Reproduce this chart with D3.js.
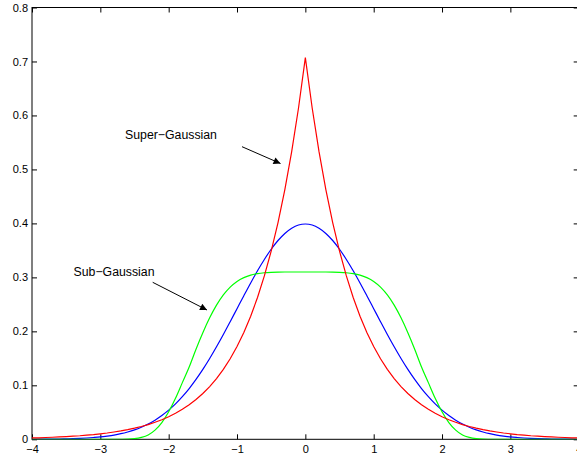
<!DOCTYPE html>
<html>
<head>
<meta charset="utf-8">
<script src="https://cdn.jsdelivr.net/npm/d3@7"></script>
<style>
  html, body { margin: 0; padding: 0; background: #fff; }
  svg { display: block; }
  text { font-family: "Liberation Sans", Arial, Helvetica, sans-serif; fill: #000; }
</style>
</head>
<body>
<script>
// Sample grid on x: -4 .. 4 in steps of 0.1 (81 points)
const xGrid = d3.range(81).map(i => +(-4 + i * 0.1).toFixed(1));

// Laplacian (super-Gaussian) density
const superGaussian = [
  0.0025, 0.0028, 0.0033, 0.0038, 0.0044, 0.0050, 0.0058, 0.0066, 0.0077, 0.0088,
  0.0102, 0.0117, 0.0135, 0.0155, 0.0179, 0.0206, 0.0237, 0.0273, 0.0315, 0.0363,
  0.0418, 0.0481, 0.0555, 0.0639, 0.0736, 0.0848, 0.0976, 0.1125, 0.1296, 0.1492,
  0.1719, 0.1980, 0.2281, 0.2627, 0.3027, 0.3487, 0.4016, 0.4626, 0.5329, 0.6138,
  0.7071,
  0.6138, 0.5329, 0.4626, 0.4016, 0.3487, 0.3027, 0.2627, 0.2281, 0.1980, 0.1719,
  0.1492, 0.1296, 0.1125, 0.0976, 0.0848, 0.0736, 0.0639, 0.0555, 0.0481, 0.0418,
  0.0363, 0.0315, 0.0273, 0.0237, 0.0206, 0.0179, 0.0155, 0.0135, 0.0117, 0.0102,
  0.0088, 0.0077, 0.0066, 0.0058, 0.0050, 0.0044, 0.0038, 0.0033, 0.0028, 0.0025
];

// Gaussian density
const gaussian = [
  0.0001, 0.0002, 0.0003, 0.0004, 0.0006, 0.0009, 0.0012, 0.0017, 0.0024, 0.0033,
  0.0044, 0.0060, 0.0079, 0.0104, 0.0136, 0.0175, 0.0224, 0.0283, 0.0355, 0.0440,
  0.0540, 0.0656, 0.0790, 0.0940, 0.1109, 0.1295, 0.1497, 0.1714, 0.1942, 0.2179,
  0.2420, 0.2661, 0.2897, 0.3123, 0.3332, 0.3521, 0.3683, 0.3814, 0.3910, 0.3970,
  0.3989,
  0.3970, 0.3910, 0.3814, 0.3683, 0.3521, 0.3332, 0.3123, 0.2897, 0.2661, 0.2420,
  0.2179, 0.1942, 0.1714, 0.1497, 0.1295, 0.1109, 0.0940, 0.0790, 0.0656, 0.0540,
  0.0440, 0.0355, 0.0283, 0.0224, 0.0175, 0.0136, 0.0104, 0.0079, 0.0060, 0.0044,
  0.0033, 0.0024, 0.0017, 0.0012, 0.0009, 0.0006, 0.0004, 0.0003, 0.0002, 0.0001
];

// Flat-topped (sub-Gaussian) density
const subGaussian = [
  0, 0, 0, 0, 0, 0, 0, 0, 0, 0,
  0, 0, 0, 0.0001, 0.0003, 0.0012, 0.0035, 0.0080, 0.0170, 0.0310,
  0.0510, 0.0760, 0.1050, 0.1340, 0.1670, 0.1975, 0.2250, 0.2485, 0.2675, 0.2820,
  0.2925, 0.2995, 0.3042, 0.3070, 0.3086, 0.3094, 0.3098, 0.3100, 0.3100, 0.3100,
  0.3100,
  0.3100, 0.3100, 0.3100, 0.3098, 0.3094, 0.3086, 0.3070, 0.3042, 0.2995, 0.2925,
  0.2820, 0.2675, 0.2485, 0.2250, 0.1975, 0.1670, 0.1340, 0.1050, 0.0760, 0.0510,
  0.0310, 0.0170, 0.0080, 0.0035, 0.0012, 0.0003, 0.0001, 0, 0, 0,
  0, 0, 0, 0, 0, 0, 0, 0, 0, 0
];

const xTicks = [-4, -3, -2, -1, 0, 1, 2, 3, 4];
const yTicks = [0, 0.1, 0.2, 0.3, 0.4, 0.5, 0.6, 0.7, 0.8];

const W = 577, H = 459;
const plotLeft = 32, plotRight = 578.7, plotTop = 7.5, plotBottom = 439.3;
const tickLen = 5;

const x = d3.scaleLinear().domain([-4, 4]).range([plotLeft, plotRight]);
const y = d3.scaleLinear().domain([0, 0.8]).range([plotBottom, plotTop]);

const svg = d3.select("body").append("svg")
  .attr("width", W).attr("height", H);

const defs = svg.append("defs");
defs.append("clipPath").attr("id", "plot-clip")
  .append("rect")
  .attr("x", plotLeft).attr("y", plotTop)
  .attr("width", plotRight - plotLeft).attr("height", plotBottom - plotTop);

defs.append("marker")
  .attr("id", "arrowhead")
  .attr("viewBox", "0 0 10 10")
  .attr("refX", 10).attr("refY", 5)
  .attr("markerUnits", "userSpaceOnUse")
  .attr("markerWidth", 9).attr("markerHeight", 7)
  .attr("orient", "auto")
  .append("path").attr("d", "M0,0 L10,5 L0,10 Z").attr("fill", "#000");

const fmtX = d => d < 0 ? "\u2212" + Math.abs(d) : String(d);
const fmtY = d => d === 0 ? "0" : d3.format(".1f")(d);

// Bottom axis (ticks point inward), top axis mirrors ticks without labels
const xBottom = svg.append("g").attr("transform", `translate(0,${plotBottom})`)
  .call(d3.axisBottom(x).tickValues(xTicks).tickSize(-tickLen).tickPadding(6).tickFormat(fmtX));
const xTop = svg.append("g").attr("transform", `translate(0,${plotTop})`)
  .call(d3.axisTop(x).tickValues(xTicks).tickSize(-tickLen).tickFormat(""));
const yLeft = svg.append("g").attr("transform", `translate(${plotLeft},0)`)
  .call(d3.axisLeft(y).tickValues(yTicks).tickSize(-tickLen).tickPadding(4).tickFormat(fmtY));
const yRight = svg.append("g").attr("transform", `translate(${plotRight},0)`)
  .call(d3.axisRight(y).tickValues(yTicks).tickSize(-tickLen).tickFormat(""));

[xBottom, xTop, yLeft, yRight].forEach(g => {
  g.select(".domain").remove();
  g.selectAll(".tick line").attr("stroke", "#000").attr("stroke-width", 1);
  g.selectAll(".tick text")
    .style("font-family", "'Liberation Sans', Arial, Helvetica, sans-serif")
    .style("font-size", "11px").attr("fill", "#000");
});

// Box frame
svg.append("rect")
  .attr("x", plotLeft).attr("y", plotTop)
  .attr("width", plotRight - plotLeft).attr("height", plotBottom - plotTop)
  .attr("fill", "none").attr("stroke", "#000").attr("stroke-width", 1);

const plot = svg.append("g").attr("clip-path", "url(#plot-clip)");

const series = [
  { values: gaussian, color: "#0000ff", curve: d3.curveMonotoneX },
  { values: subGaussian, color: "#00ff00", curve: d3.curveMonotoneX },
  { values: superGaussian, color: "#ff0000", curve: d3.curveLinear }
];

series.forEach(s => {
  const line = d3.line()
    .x((d, i) => x(xGrid[i]))
    .y(d => y(d))
    .curve(s.curve);
  plot.append("path")
    .datum(s.values)
    .attr("d", line)
    .attr("fill", "none")
    .attr("stroke", s.color)
    .attr("stroke-width", 1.2);
});

// Annotations with arrows
const annotations = [
  { text: "Super\u2212Gaussian", tx: 125, ty: 139.3, from: [242, 146.7], to: [280.5, 163.5] },
  { text: "Sub\u2212Gaussian", tx: 73.5, ty: 275.7, from: [152.7, 282.3], to: [207, 310] }
];

annotations.forEach(a => {
  svg.append("text")
    .attr("x", a.tx).attr("y", a.ty)
    .style("font-size", "12.3px")
    .text(a.text);
  svg.append("line")
    .attr("x1", a.from[0]).attr("y1", a.from[1])
    .attr("x2", a.to[0]).attr("y2", a.to[1])
    .attr("stroke", "#000").attr("stroke-width", 1)
    .attr("marker-end", "url(#arrowhead)");
});
</script>
</body>
</html>
